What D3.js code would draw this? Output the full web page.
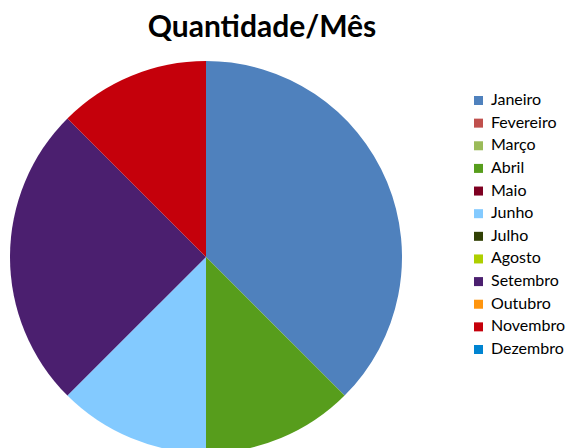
<!DOCTYPE html>
<html>
<head>
<meta charset="utf-8">
<script src="https://cdn.jsdelivr.net/npm/d3@7"></script>
<style>
  body { margin: 0; background: #fff; }
  text { font-family: Lato, "Open Sans", sans-serif; fill: #000; }
</style>
</head>
<body>
<div class="chart"></div>
<script>
var svgWidth = 567;
var svgHeight = 448;

// Data
var months = ["Janeiro", "Fevereiro", "Março", "Abril", "Maio", "Junho",
  "Julho", "Agosto", "Setembro", "Outubro", "Novembro", "Dezembro"];
var quantities = [3, 0, 0, 1, 0, 1, 0, 0, 2, 0, 1, 0];
var colors = ["#4f81bd", "#c0504d", "#9bbb59", "#579d1c", "#7e0021", "#83caff",
  "#314004", "#aecf00", "#4b1f6f", "#ff950e", "#c5000b", "#0084d1"];
var title = "Quantidade/Mês";

var data = months.map(function(m, i) {
  return { month: m, value: quantities[i] };
});

var svg = d3.select(".chart")
  .append("svg")
  .attr("width", svgWidth)
  .attr("height", svgHeight);

var color = d3.scaleOrdinal().domain(months).range(colors);

// Title
svg.append("text")
  .attr("x", 262)
  .attr("y", 37)
  .attr("text-anchor", "middle")
  .attr("font-size", "30px")
  .attr("font-weight", "bold")
  .text(title);

// Pie
var radius = 196;
var pieGroup = svg.append("g")
  .attr("transform", "translate(206, 257)");

var pie = d3.pie()
  .sort(null)
  .value(d => d.value);

var arc = d3.arc()
  .innerRadius(0)
  .outerRadius(radius);

pieGroup.selectAll("path")
  .data(pie(data).filter(d => d.data.value > 0))
  .enter()
  .append("path")
  .attr("d", arc)
  .attr("fill", d => color(d.data.month));

// Legend
var legendY = d3.scalePoint()
  .domain(months)
  .range([100.5, 349.5]);

var legend = svg.selectAll(".legend")
  .data(months)
  .enter()
  .append("g")
  .attr("class", "legend")
  .attr("transform", d => `translate(474, ${legendY(d)})`);

legend.append("rect")
  .attr("x", 0)
  .attr("y", -4.5)
  .attr("width", 9)
  .attr("height", 9)
  .attr("fill", d => color(d));

legend.append("text")
  .attr("x", 17)
  .attr("y", 4.5)
  .attr("font-size", "16px")
  .text(d => d);
</script>
</body>
</html>
